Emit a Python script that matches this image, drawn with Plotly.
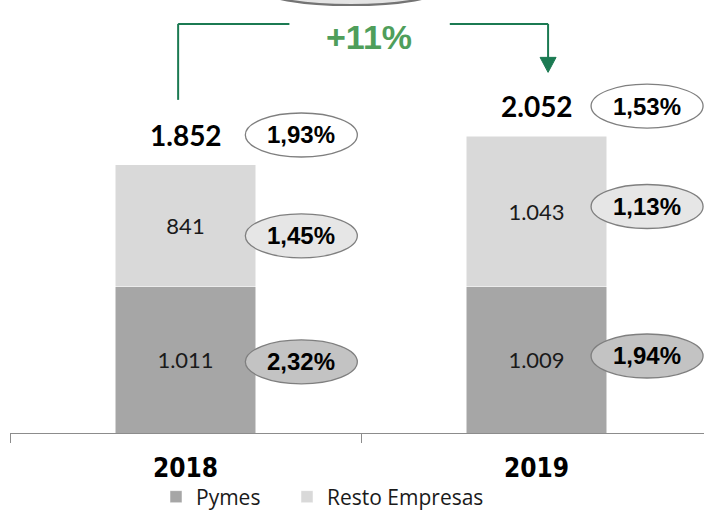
import plotly.graph_objects as go

# datos (miles de millones), tasas de mora en %
years = ["2018", "2019"]
pymes = [1011, 1009]
resto = [841, 1043]
rate_total = [1.93, 1.53]
rate_resto = [1.45, 1.13]
rate_pymes = [2.32, 1.94]

C_PYMES = "#a6a6a6"
C_RESTO = "#d9d9d9"
GREEN_LINE = "#1b7a52"
GREEN_TEXT = "#4f9e5b"
NUM_FONT = "Lato, Open Sans, sans-serif"
LEG_FONT = "Open Sans, Lato, sans-serif"
ARIAL = "Liberation Sans, Arial, sans-serif"
NARROW = "Liberation Sans Narrow, Arial Narrow, DejaVu Sans Condensed, sans-serif"

W, H = 704, 511
ML, MB = 10, 78
YMAX = 2992
XMAX = -0.5 + (W - ML) / 351


def es_num(v):
    return f"{v:,}".replace(",", ".")


def es_pct(v):
    return f"{v:.2f}".replace(".", ",") + "%"


totals = [p + r for p, r in zip(pymes, resto)]
growth = round((totals[1] / totals[0] - 1) * 100)

fig = go.Figure()
fig.add_bar(x=years, y=pymes, name="Pymes", marker_color=C_PYMES, width=0.4,
            text=[es_num(v) for v in pymes], textposition="inside",
            legend="legend", showlegend=True,
            insidetextanchor="middle", textfont=dict(family=NUM_FONT, size=22, color="#1a1a1a"))
fig.add_bar(x=years, y=resto, name="Resto Empresas", marker_color=C_RESTO, width=0.4,
            text=[es_num(v) for v in resto], textposition="inside",
            legend="legend2", showlegend=True,
            insidetextanchor="middle", textfont=dict(family=NUM_FONT, size=22, color="#1a1a1a"))

shapes, annos = [], []

# burbujas con la tasa (centro en px relativo al segmento / total)
ELL_DX = 0.33
bubbles = []
for i in range(len(years)):
    bubbles.append((i, totals[i], 30, rate_total[i], "white"))
    bubbles.append((i, pymes[i] + resto[i] / 2, [-10, 5][i], rate_resto[i], "#e6e6e6"))
    bubbles.append((i, pymes[i] / 2, [-2, 4][i], rate_pymes[i], "#c3c3c3"))

for i, yc, dy, rate, fill in bubbles:
    xc = i + ELL_DX - (0.0 if i == 0 else 0.015)
    shapes.append(dict(type="circle", xref="x", yref="y", xsizemode="pixel", ysizemode="pixel",
                       xanchor=xc, yanchor=yc, x0=-56, x1=56, y0=dy - 22, y1=dy + 22,
                       fillcolor=fill, line=dict(color="#7f7f7f", width=1.3), layer="above"))
    annos.append(dict(x=xc, y=yc, yshift=dy, text=f"<b>{es_pct(rate)}</b>", showarrow=False,
                      font=dict(family=ARIAL, size=24, color="black")))

# totales
for i, t in enumerate(totals):
    annos.append(dict(x=i, y=t, yshift=30, text=f"<b>{es_num(t)}</b>", showarrow=False,
                      font=dict(family=NUM_FONT, size=28, color="black")))

# óvalo superior (recortado por el borde)
shapes.append(dict(type="circle", xref="x", yref="y", xsizemode="pixel", ysizemode="pixel",
                   xanchor=0.4715, yanchor=YMAX, x0=-90, x1=90, y0=-5, y1=27,
                   fillcolor="#e4e4e4", line=dict(color="#747474", width=2.2)))

# corchete verde de crecimiento
y_top = 2827
line = dict(color=GREEN_LINE, width=2)
shapes += [
    dict(type="line", xref="x", yref="y", x0=-0.021, x1=-0.021, y0=totals[0] + 450, y1=y_top, line=line),
    dict(type="line", xref="x", yref="y", x0=-0.021, x1=0.296, y0=y_top, y1=y_top, line=line),
    dict(type="line", xref="x", yref="y", x0=0.753, x1=1.033, y0=y_top, y1=y_top, line=line),
    dict(type="line", xref="x", yref="y", x0=1.033, x1=1.033, y0=y_top, y1=totals[1] + 540, line=line),
    dict(type="path", xref="x", yref="y", xsizemode="pixel", ysizemode="pixel",
         xanchor=1.033, yanchor=totals[1] + 440, path="M -8,15 L 8,15 L 0,0 Z",
         fillcolor=GREEN_LINE, line=dict(color=GREEN_LINE, width=1)),
]
annos.append(dict(x=0.523, y=2737, text=f"<b>+{growth}%</b>", showarrow=False,
                  font=dict(family=ARIAL, size=34, color=GREEN_TEXT)))

leg = dict(orientation="h", xref="container", xanchor="left", y=14 / H, yref="container",
           yanchor="middle", font=dict(family=LEG_FONT, size=21, color="#1a1a1a"),
           itemwidth=30, bgcolor="rgba(0,0,0,0)")

fig.update_layout(
    barmode="stack", width=W, height=H, template="plotly_white",
    plot_bgcolor="white", paper_bgcolor="white", showlegend=True,
    margin=dict(l=ML, r=0, t=0, b=MB, autoexpand=False),
    separators=",.",
    shapes=shapes, annotations=annos,
    legend=dict(leg, x=156 / W),
    legend2=dict(leg, x=287 / W),
    xaxis=dict(range=[-0.5, XMAX], showgrid=False, showline=True, linecolor="#8c8c8c",
               linewidth=1.3, ticks="outside", tickson="boundaries", ticklen=9,
               tickcolor="#8c8c8c", tickwidth=1.3, zeroline=False, automargin=False,
               tickfont=dict(family=NARROW, size=26, color="black"), ticklabelstandoff=12,
               tickvals=years, ticktext=[f"<b>{y}</b>" for y in years]),
    yaxis=dict(range=[0, YMAX], visible=False, showgrid=False, automargin=False),
)

# the page's default 8px body margin would shift the whole chart
fig.write_html("out.html", config={"displayModeBar": False},
               post_script="document.body.style.margin='0';")
